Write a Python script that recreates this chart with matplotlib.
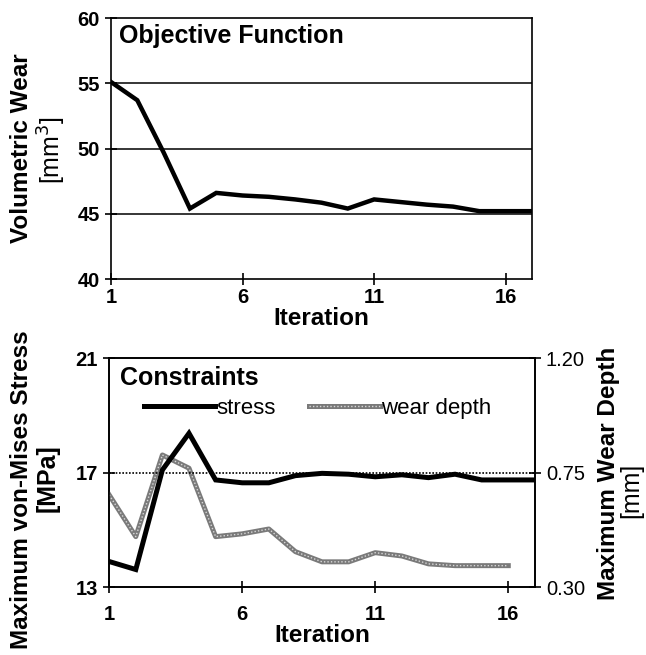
import matplotlib
matplotlib.use('Agg')
import matplotlib.pyplot as plt
from matplotlib.lines import Line2D

plt.rcParams['font.family'] = ['Liberation Sans', 'DejaVu Sans']

# --- data ---
iter_obj = list(range(1, 18))
vol_wear = [55.1, 53.7, 49.7, 45.4, 46.6, 46.4, 46.3, 46.1, 45.85, 45.4,
            46.1, 45.9, 45.7, 45.55, 45.2, 45.2, 45.2]

iter_stress = list(range(1, 18))
stress = [13.9, 13.62, 17.1, 18.38, 16.75, 16.65, 16.65, 16.9, 16.98, 16.95,
          16.86, 16.93, 16.83, 16.95, 16.75, 16.75, 16.75]

iter_depth = list(range(1, 17))
wear_depth = [0.663, 0.499, 0.82, 0.768, 0.499, 0.51, 0.529, 0.44, 0.40, 0.40,
              0.436, 0.423, 0.392, 0.385, 0.385, 0.385]

stress_limit = 17
xticks = [1, 6, 11, 16]

fig = plt.figure(figsize=(6.46, 6.55), dpi=100)
ax1 = fig.add_axes([0.1718, 0.574, 0.6517, 0.3985])
ax2 = fig.add_axes([0.169, 0.1034, 0.659, 0.3496])
ax3 = ax2.twinx()

tick_kw = dict(direction='inout', length=9, width=1.2, labelsize=14.5)
LAB = 17.5

# --- top: objective function ---
for y in [45, 50, 55]:
    ax1.axhline(y, color='black', lw=1.1, zorder=1)
ax1.plot(iter_obj, vol_wear, color='black', lw=3.2, solid_joinstyle='miter', zorder=3)
ax1.set_xlim(1, 17)
ax1.set_ylim(40, 60)
ax1.set_xticks(xticks)
ax1.set_yticks([40, 45, 50, 55, 60])
ax1.tick_params(**tick_kw)
ax1.tick_params(axis='x', pad=2)
for lab in ax1.get_xticklabels() + ax1.get_yticklabels():
    lab.set_fontweight('bold')
ax1.set_xlabel('Iteration', fontsize=LAB, fontweight='bold', labelpad=0)
ax1.text(0.02, 0.93, 'Objective Function', transform=ax1.transAxes,
         fontsize=18, fontweight='bold', va='center', ha='left')
for sp in ax1.spines.values():
    sp.set_linewidth(1.2)

# --- bottom: constraints ---
ax2.axhline(stress_limit, color='black', lw=1.2, ls=(0, (1, 1)), zorder=1)
ax2.plot(iter_stress, stress, color='black', lw=3.6, solid_joinstyle='miter', zorder=4)
ax3.plot(iter_depth, wear_depth, color='#7a7a7a', lw=3.6, zorder=3)
ax3.plot(iter_depth, wear_depth, color='#d8d8d8', lw=1.0, ls=(0, (1, 1.5)), zorder=3)
ax2.set_zorder(ax3.get_zorder() + 1)
ax2.patch.set_visible(False)

ax2.set_xlim(1, 17)
ax2.set_ylim(13, 21)
ax2.set_xticks(xticks)
ax2.set_yticks([13, 17, 21])
ax3.set_ylim(0.30, 1.20)
ax3.set_yticks([0.30, 0.75, 1.20])
ax3.set_yticklabels(['0.30', '0.75', '1.20'])
ax2.tick_params(**tick_kw)
ax3.tick_params(**tick_kw)
ax2.tick_params(axis='x', pad=8)
for lab in ax2.get_xticklabels() + ax2.get_yticklabels():
    lab.set_fontweight('bold')
ax2.set_xlabel('Iteration', fontsize=LAB, fontweight='bold', labelpad=0)
ax2.text(0.025, 0.915, 'Constraints', transform=ax2.transAxes,
         fontsize=18, fontweight='bold', va='center', ha='left')
for sp in list(ax2.spines.values()) + list(ax3.spines.values()):
    sp.set_linewidth(1.2)

h_stress = Line2D([], [], color='black', lw=3.6)
h_depth = (Line2D([], [], color='#7a7a7a', lw=3.6),
           Line2D([], [], color='#d8d8d8', lw=1.0, ls=(0, (1, 1.5))))
ax2.legend([h_stress, h_depth], ['stress', 'wear depth'], ncol=2, frameon=False,
           fontsize=16, handlelength=3.2, handletextpad=0.05, columnspacing=1.5,
           loc='center left', bbox_to_anchor=(0.035, 0.78))

# --- axis titles ---
fig.text(22 / 646, 1 - 148 / 655, 'Volumetric Wear', rotation=90, fontsize=LAB,
         fontweight='bold', ha='center', va='center')
fig.text(52 / 646, 1 - 150 / 655, '[mm$^3$]', rotation=90, fontsize=18,
         ha='center', va='center')
fig.text(22 / 646, 1 - 490 / 655, 'Maximum von-Mises Stress', rotation=90, fontsize=LAB,
         fontweight='bold', ha='center', va='center')
fig.text(48 / 646, 1 - 478 / 655, '[MPa]', rotation=90, fontsize=18,
         fontweight='bold', ha='center', va='center')
fig.text(609 / 646, 1 - 473 / 655, 'Maximum Wear Depth', rotation=90, fontsize=LAB,
         fontweight='bold', ha='center', va='center')
fig.text(631 / 646, 1 - 490 / 655, '[mm]', rotation=90, fontsize=18,
         ha='center', va='center')

fig.savefig('out.png', dpi=100)
